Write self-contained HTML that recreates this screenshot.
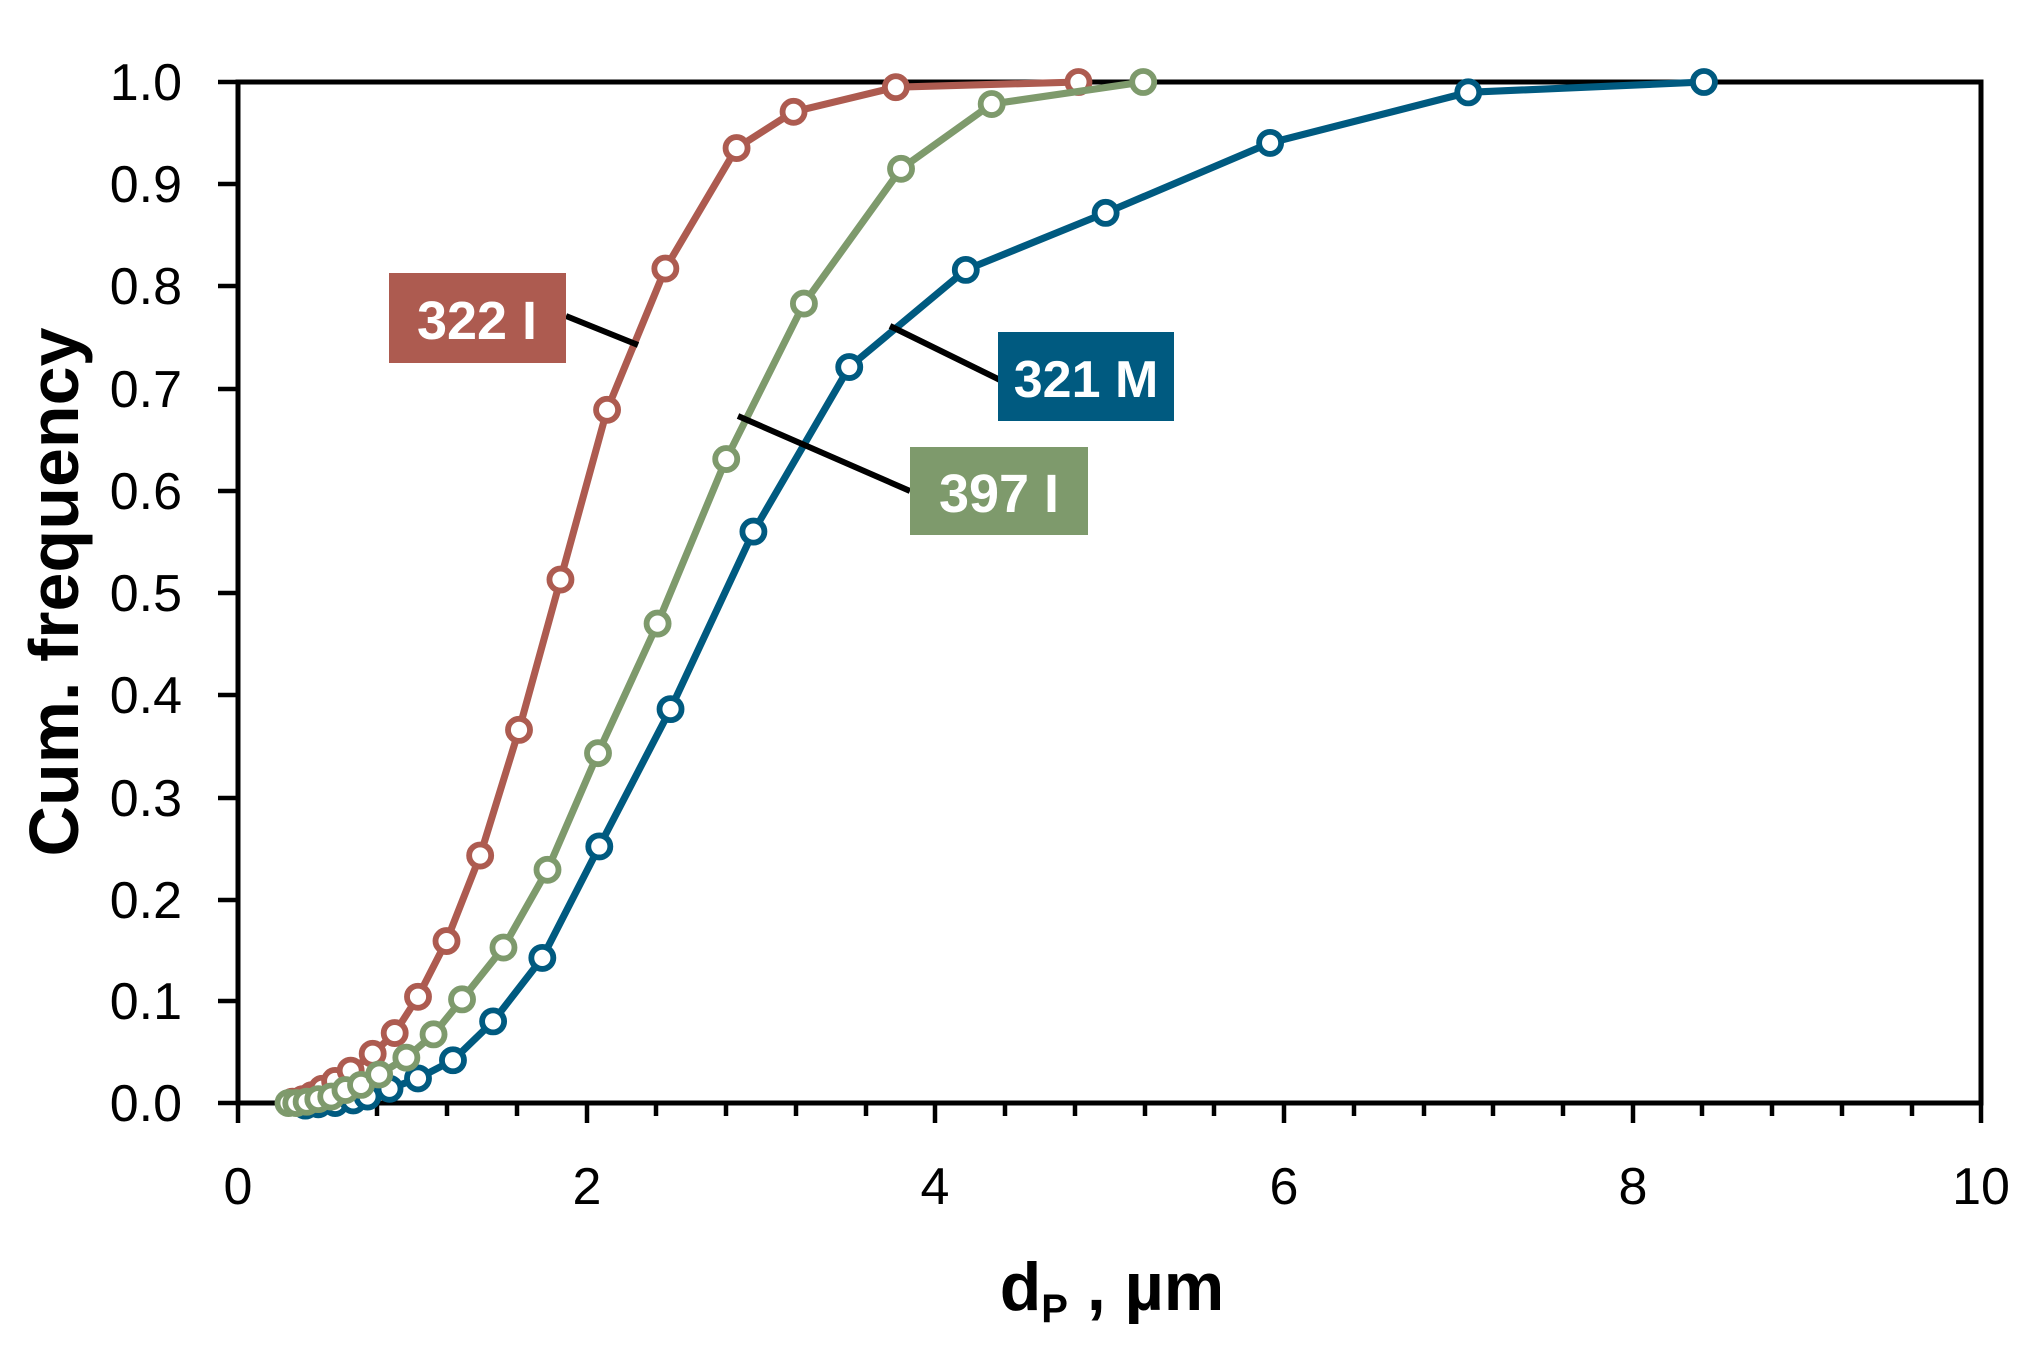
<!DOCTYPE html>
<html><head><meta charset="utf-8"><style>html,body{margin:0;padding:0;background:#fff}svg{display:block}</style></head>
<body>
<svg width="2030" height="1352" viewBox="0 0 2030 1352" xmlns="http://www.w3.org/2000/svg" font-family="Liberation Sans, sans-serif">
<rect width="2030" height="1352" fill="#fff"/>
<rect x="238" y="82" width="1743" height="1021" fill="none" stroke="#000" stroke-width="5"/>
<g stroke="#000" stroke-width="4.5">
<line x1="218" y1="82" x2="238" y2="82"/><line x1="218" y1="184" x2="238" y2="184"/><line x1="218" y1="286" x2="238" y2="286"/><line x1="218" y1="389" x2="238" y2="389"/><line x1="218" y1="491" x2="238" y2="491"/><line x1="218" y1="593" x2="238" y2="593"/><line x1="218" y1="695" x2="238" y2="695"/><line x1="218" y1="798" x2="238" y2="798"/><line x1="218" y1="900" x2="238" y2="900"/><line x1="218" y1="1001" x2="238" y2="1001"/><line x1="218" y1="1103" x2="238" y2="1103"/>
<line x1="238" y1="1103" x2="238" y2="1123"/><line x1="308" y1="1103" x2="308" y2="1116"/><line x1="377" y1="1103" x2="377" y2="1116"/><line x1="447" y1="1103" x2="447" y2="1116"/><line x1="517" y1="1103" x2="517" y2="1116"/><line x1="587" y1="1103" x2="587" y2="1123"/><line x1="656" y1="1103" x2="656" y2="1116"/><line x1="726" y1="1103" x2="726" y2="1116"/><line x1="796" y1="1103" x2="796" y2="1116"/><line x1="866" y1="1103" x2="866" y2="1116"/><line x1="935" y1="1103" x2="935" y2="1123"/><line x1="1005" y1="1103" x2="1005" y2="1116"/><line x1="1075" y1="1103" x2="1075" y2="1116"/><line x1="1145" y1="1103" x2="1145" y2="1116"/><line x1="1214" y1="1103" x2="1214" y2="1116"/><line x1="1284" y1="1103" x2="1284" y2="1123"/><line x1="1354" y1="1103" x2="1354" y2="1116"/><line x1="1424" y1="1103" x2="1424" y2="1116"/><line x1="1493" y1="1103" x2="1493" y2="1116"/><line x1="1563" y1="1103" x2="1563" y2="1116"/><line x1="1633" y1="1103" x2="1633" y2="1123"/><line x1="1702" y1="1103" x2="1702" y2="1116"/><line x1="1772" y1="1103" x2="1772" y2="1116"/><line x1="1842" y1="1103" x2="1842" y2="1116"/><line x1="1912" y1="1103" x2="1912" y2="1116"/><line x1="1981" y1="1103" x2="1981" y2="1123"/>
</g>
<g font-size="52" text-anchor="end" fill="#000">
<text x="182" y="100">1.0</text><text x="182" y="202">0.9</text><text x="182" y="304">0.8</text><text x="182" y="407">0.7</text><text x="182" y="509">0.6</text><text x="182" y="611">0.5</text><text x="182" y="713">0.4</text><text x="182" y="816">0.3</text><text x="182" y="918">0.2</text><text x="182" y="1019">0.1</text><text x="182" y="1121">0.0</text>
</g>
<g font-size="52" text-anchor="middle" fill="#000">
<text x="238" y="1204">0</text><text x="587" y="1204">2</text><text x="935" y="1204">4</text><text x="1284" y="1204">6</text><text x="1633" y="1204">8</text><text x="1981" y="1204">10</text>
</g>
<text transform="translate(78,592) rotate(-90)" font-size="70" font-weight="bold" text-anchor="middle">Cum. frequency</text>
<text x="1112" y="1310" font-size="68" font-weight="bold" text-anchor="middle">d<tspan font-size="40" dy="12">P</tspan><tspan dy="-12"> , µm</tspan></text>

<g transform="translate(238,82) scale(1.295,1.2957) translate(-183,-63)" fill="#fff" stroke-linejoin="round">
<polyline fill="none" stroke="#AD5B50" stroke-width="5.5" points="225,850 233,848 240,845 248,840 258,834 270,826 287,813 304,797 322,769 344,726 370,660 400,563 432,447 468,316 513,207 568,114 612,86 691,67 832,63"/>
<g stroke="#AD5B50" stroke-width="4.5"><circle cx="225" cy="850" r="8.5"/><circle cx="233" cy="848" r="8.5"/><circle cx="240" cy="845" r="8.5"/><circle cx="248" cy="840" r="8.5"/><circle cx="258" cy="834" r="8.5"/><circle cx="270" cy="826" r="8.5"/><circle cx="287" cy="813" r="8.5"/><circle cx="304" cy="797" r="8.5"/><circle cx="322" cy="769" r="8.5"/><circle cx="344" cy="726" r="8.5"/><circle cx="370" cy="660" r="8.5"/><circle cx="400" cy="563" r="8.5"/><circle cx="432" cy="447" r="8.5"/><circle cx="468" cy="316" r="8.5"/><circle cx="513" cy="207" r="8.5"/><circle cx="568" cy="114" r="8.5"/><circle cx="612" cy="86" r="8.5"/><circle cx="691" cy="67" r="8.5"/><circle cx="832" cy="63" r="8.5"/></g>
<polyline fill="none" stroke="#005A80" stroke-width="5.5" points="225,853 235,853 245,852 258,851 272,849 283,846 300,840 322,832 349,818 380,788 418,739 462,653 517,547 581,410 655,283 745,208 853,164 980,110 1133,71 1315,63"/>
<g stroke="#005A80" stroke-width="4.5"><circle cx="235" cy="853" r="8.5"/><circle cx="245" cy="852" r="8.5"/><circle cx="258" cy="851" r="8.5"/><circle cx="272" cy="849" r="8.5"/><circle cx="283" cy="846" r="8.5"/><circle cx="300" cy="840" r="8.5"/><circle cx="322" cy="832" r="8.5"/><circle cx="349" cy="818" r="8.5"/><circle cx="380" cy="788" r="8.5"/><circle cx="418" cy="739" r="8.5"/><circle cx="462" cy="653" r="8.5"/><circle cx="517" cy="547" r="8.5"/><circle cx="581" cy="410" r="8.5"/><circle cx="655" cy="283" r="8.5"/><circle cx="745" cy="208" r="8.5"/><circle cx="853" cy="164" r="8.5"/><circle cx="980" cy="110" r="8.5"/><circle cx="1133" cy="71" r="8.5"/><circle cx="1315" cy="63" r="8.5"/></g>
<polyline fill="none" stroke="#7E9A6C" stroke-width="5.5" points="222,851 228,851 236,850 245,848 255,846 266,841 278,837 292,829 313,816 334,798 356,771 388,731 422,671 461,581 507,481 560,354 620,234 695,130 765,80 882,63"/>
<g stroke="#7E9A6C" stroke-width="4.5"><circle cx="222" cy="851" r="8.5"/><circle cx="228" cy="851" r="8.5"/><circle cx="236" cy="850" r="8.5"/><circle cx="245" cy="848" r="8.5"/><circle cx="255" cy="846" r="8.5"/><circle cx="266" cy="841" r="8.5"/><circle cx="278" cy="837" r="8.5"/><circle cx="292" cy="829" r="8.5"/><circle cx="313" cy="816" r="8.5"/><circle cx="334" cy="798" r="8.5"/><circle cx="356" cy="771" r="8.5"/><circle cx="388" cy="731" r="8.5"/><circle cx="422" cy="671" r="8.5"/><circle cx="461" cy="581" r="8.5"/><circle cx="507" cy="481" r="8.5"/><circle cx="560" cy="354" r="8.5"/><circle cx="620" cy="234" r="8.5"/><circle cx="695" cy="130" r="8.5"/><circle cx="765" cy="80" r="8.5"/><circle cx="882" cy="63" r="8.5"/></g>
</g>

<g stroke="#000" stroke-width="6">
<line x1="566" y1="316" x2="638" y2="345"/>
<line x1="890" y1="326" x2="1000" y2="380"/>
<line x1="738" y1="416" x2="910" y2="491"/>
</g>
<rect x="389" y="273" width="177" height="90" fill="#AD5B50"/>
<text x="477" y="339" font-size="54" font-weight="bold" fill="#fff" text-anchor="middle">322 I</text>
<rect x="998" y="332" width="176" height="89" fill="#005A80"/>
<text x="1086" y="397" font-size="52" font-weight="bold" fill="#fff" text-anchor="middle">321 M</text>
<rect x="910" y="447" width="178" height="88" fill="#7E9A6C"/>
<text x="999" y="512" font-size="54" font-weight="bold" fill="#fff" text-anchor="middle">397 I</text>
</svg>
</body></html>
